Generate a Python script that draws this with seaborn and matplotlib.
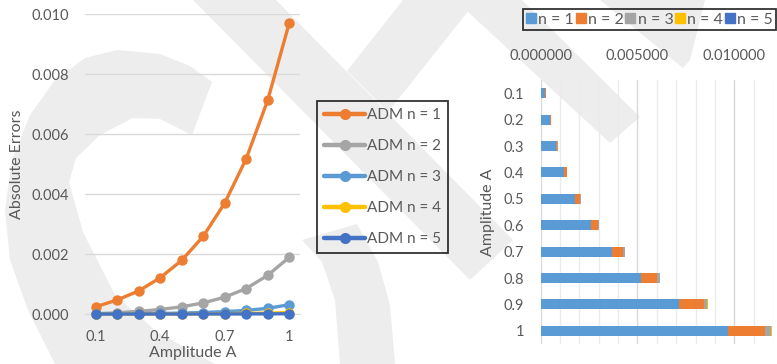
import matplotlib
matplotlib.use("Agg")
import matplotlib.pyplot as plt
from matplotlib.patches import Polygon
from matplotlib.lines import Line2D
from matplotlib.ticker import MultipleLocator, FormatStrFormatter, FixedLocator
import numpy as np
import pandas as pd
import seaborn as sns

# ---- data -------------------------------------------------------------
amplitude = [0.1, 0.2, 0.3, 0.4, 0.5, 0.6, 0.7, 0.8, 0.9, 1.0]
amp_labels = ["0.1", "0.2", "0.3", "0.4", "0.5", "0.6", "0.7", "0.8", "0.9", "1"]
err_n1 = [0.00024, 0.00047, 0.00077, 0.00121, 0.00179, 0.00259, 0.00370, 0.00518, 0.00713, 0.00970]
err_n2 = [0.00001, 0.00004, 0.00009, 0.00015, 0.00024, 0.00037, 0.00056, 0.00085, 0.00129, 0.00189]
err_n3 = [0.000001, 0.000004, 0.00001, 0.00002, 0.00003, 0.00005, 0.00008, 0.00012, 0.00019, 0.00031]
err_n4 = [0.0, 0.0000005, 0.000001, 0.000002, 0.000004, 0.000007, 0.000012, 0.00002, 0.00003, 0.00005]
err_n5 = [0.0, 0.0, 0.0, 0.0, 0.0000005, 0.000001, 0.000002, 0.000003, 0.000005, 0.000008]
series_names = ["n = 1", "n = 2", "n = 3", "n = 4", "n = 5"]
line_labels = ["ADM n = 1", "ADM n = 2", "ADM n = 3", "ADM n = 4", "ADM n = 5"]
x_ticks_left = [0.1, 0.4, 0.7, 1.0]
x_ticklabels_left = ["0.1", "0.4", "0.7", "1"]

# ---- style ------------------------------------------------------------
ORANGE, GREY, LBLUE, GOLD, DBLUE = "#ED7D31", "#A5A5A5", "#5B9BD5", "#FFC000", "#4472C4"
line_colors = [ORANGE, GREY, LBLUE, GOLD, DBLUE]
bar_colors = [LBLUE, ORANGE, GREY, GOLD, DBLUE]
TXT = "#595959"
GRID = "#d9d9d9"

sns.set_style("white")
plt.rcParams["font.family"] = ["Lato", "DejaVu Sans"]
plt.rcParams["text.color"] = TXT
plt.rcParams["axes.labelcolor"] = TXT
plt.rcParams["xtick.color"] = TXT
plt.rcParams["ytick.color"] = TXT

W, H = 777, 364
fig = plt.figure(figsize=(W / 100, H / 100), dpi=100, facecolor="white")


def px(x, y):
    return (x / W, 1 - y / H)


# faint background emblem
emblem_shapes = [
    # curved arc on the left
    [(212, 82), (190, 66), (160, 54), (117, 50), (85, 58), (55, 80), (30, 115), (12, 160),
     (5, 210), (10, 260), (28, 310), (55, 364), (215, 364), (157, 332), (115, 295),
     (83, 232), (69, 182), (76, 158), (100, 135), (133, 118), (160, 119), (192, 135)],
    # diagonal bar through the middle
    [(193, 0), (276, 0), (513, 240), (470, 280)],
    [(403, 0), (477, 0), (388, 112), (347, 71)],
    # right-hand bars
    [(455, 0), (522, 0), (640, 117), (610, 143)],
    [(600, 0), (705, 0), (690, 60), (683, 68)],
    # lower arc
    [(302, 240), (357, 224), (378, 262), (390, 305), (395, 364), (340, 364), (335, 300), (322, 262)],
]
for shape in emblem_shapes:
    fig.add_artist(Polygon([px(x, y) for x, y in shape], closed=True, transform=fig.transFigure,
                           facecolor="#ededed", edgecolor="none", zorder=-5))

# ---- left: line chart -------------------------------------------------
ax1 = fig.add_axes([85 / W, 1 - 314 / H, 215 / W, 300 / H])
ax1.set_facecolor("none")
long_df = pd.DataFrame({
    "Amplitude": amplitude * 5,
    "Error": err_n1 + err_n2 + err_n3 + err_n4 + err_n5,
    "Series": [lab for lab in line_labels for _ in amplitude],
})
sns.lineplot(data=long_df, x="Amplitude", y="Error", hue="Series", hue_order=line_labels,
             palette=line_colors, marker="o", markersize=7.5, markeredgewidth=0,
             linewidth=2.4, legend=False, clip_on=False, ax=ax1, zorder=3)
ax1.set_xlim(0.05, 1.05)
ax1.set_ylim(0, 0.010)
ax1.yaxis.set_major_locator(MultipleLocator(0.002))
ax1.yaxis.set_major_formatter(FormatStrFormatter("%.3f"))
ax1.xaxis.set_major_locator(FixedLocator(x_ticks_left))
ax1.set_xticklabels(x_ticklabels_left)
ax1.grid(axis="y", color=GRID, linewidth=1)
ax1.set_axisbelow(True)
for s in ["left", "right", "top"]:
    ax1.spines[s].set_visible(False)
ax1.spines["bottom"].set_color(GRID)
ax1.tick_params(axis="both", length=0, labelsize=10.5)
ax1.tick_params(axis="y", pad=11.5)
ax1.tick_params(axis="x", pad=11.5)
ax1.set_xlabel("Amplitude A", fontsize=11.5)
ax1.set_ylabel("Absolute Errors", fontsize=11.5)
ax1.xaxis.set_label_coords(0.5, -0.105)
ax1.yaxis.set_label_coords(-0.285, 0.5)

line_handles = [Line2D([], [], color=c, lw=3.2, marker="o", markersize=8, markeredgewidth=0)
                for c in line_colors]
leg1 = fig.legend(line_handles, line_labels, loc="upper left", bbox_to_anchor=px(317, 101),
                  frameon=True, fancybox=False, edgecolor="black", facecolor="none",
                  fontsize=11, labelspacing=1.12, handlelength=2.7, handletextpad=0.1,
                  borderpad=0.45, borderaxespad=0)
leg1.get_frame().set_linewidth(1.3)

# ---- right: stacked horizontal bars ----------------------------------
ax2 = fig.add_axes([540.7 / W, 1 - 344 / H, 232.3 / W, 264 / H])
ax2.set_facecolor("none")
layers = [err_n1, err_n2, err_n3, err_n4, err_n5]
cumulative = np.cumsum(np.array(layers), axis=0)
# draw from the full stack down so each segment shows its own colour
for k in range(4, -1, -1):
    df_k = pd.DataFrame({"Amplitude A": amp_labels, "Error": cumulative[k]})
    sns.barplot(data=df_k, x="Error", y="Amplitude A", order=amp_labels, orient="h",
                color=bar_colors[k], saturation=1, width=0.38, errorbar=None,
                linewidth=0, ax=ax2, zorder=3)
ax2.set_xlim(0, 0.012)
ax2.xaxis.tick_top()
ax2.xaxis.set_major_locator(MultipleLocator(0.005))
ax2.xaxis.set_minor_locator(MultipleLocator(0.001))
ax2.xaxis.set_major_formatter(FormatStrFormatter("%.6f"))
ax2.grid(axis="x", which="major", color=GRID, linewidth=1)
ax2.grid(axis="x", which="minor", color="#ebebeb", linewidth=1)
ax2.set_axisbelow(True)
for s in ax2.spines.values():
    s.set_visible(False)
ax2.tick_params(axis="both", which="both", length=0, labelsize=10.5)
ax2.tick_params(axis="x", pad=12)
ax2.tick_params(axis="y", pad=12)
ax2.set_xlabel("")
ax2.set_ylabel("Amplitude A", fontsize=11.5)
ax2.yaxis.set_label_coords(-0.195, 0.5)

bar_handles = [Line2D([], [], linestyle="", marker="s", markersize=7, color=c) for c in bar_colors]
leg2 = fig.legend(bar_handles, series_names, loc="upper right", bbox_to_anchor=px(776, 9.3),
                  ncol=5, frameon=True, fancybox=False, edgecolor="black", facecolor="none",
                  fontsize=11.5, handlelength=0.6, handletextpad=0.15, columnspacing=0.12,
                  borderpad=0.2, borderaxespad=0)
leg2.get_frame().set_linewidth(1.3)

fig.savefig("out.png", dpi=100, facecolor="white")
